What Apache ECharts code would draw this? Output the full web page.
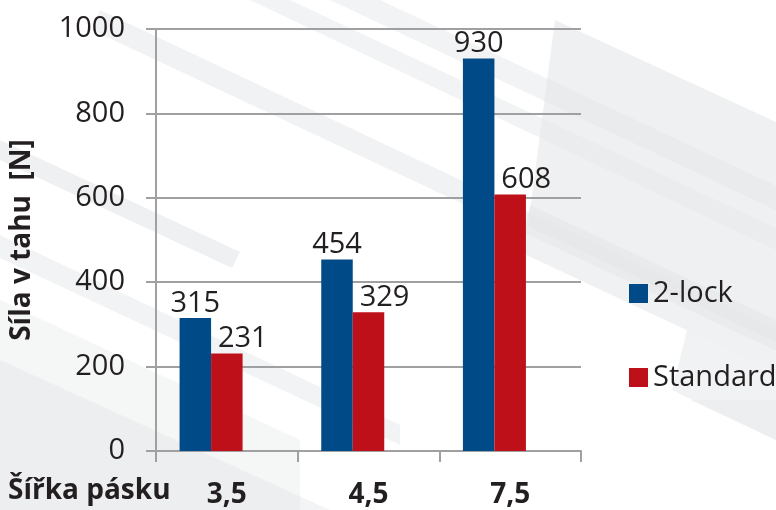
<!DOCTYPE html>
<html>
<head>
<meta charset="utf-8">
<script src="https://cdn.jsdelivr.net/npm/echarts@6/dist/echarts.min.js"></script>
<style>
html,body{margin:0;padding:0;background:#fff;}
#c{width:776px;height:510px;}
</style>
</head>
<body>
<div id="c"></div>
<script>
var categories = ['3,5', '4,5', '7,5'];
var seriesNames = ['2-lock', 'Standard'];
var lock2 = [315, 454, 930];
var standard = [231, 329, 608];
var emptySlot = [null, null, null];
var yTicks = [0, 200, 400, 600, 800, 1000];
var xTitle = 'Šířka pásku';
var yTitle = 'Síla v tahu  [N]';

var FONT = '"Open Sans", "Noto Sans", sans-serif';
var TXT = '#231f20';
var GRID = '#a0a0a2';

function poly(points, color, z) {
  return { type: 'polygon', silent: true, z: z || -10, shape: { points: points }, style: { fill: color } };
}

var bg = [
  // left stripes
  poly([[100, 10], [800, 340], [800, 362], [92, 30]], 'rgba(232,234,235,0.6)'),
  poly([[0, 140], [240, 252], [232, 268], [0, 160]], 'rgba(232,234,235,0.7)'),
  poly([[0, 235], [400, 425], [400, 445], [0, 258]], 'rgba(232,234,235,0.55)'),
  poly([[0, 300], [300, 440], [300, 510], [0, 510]], 'rgba(232,234,235,0.45)'),
  poly([[0, 360], [330, 510], [0, 510]], 'rgba(226,228,230,0.4)'),
  poly([[290, 0], [776, 228], [776, 250], [250, 0]], 'rgba(232,234,235,0.55)'),
  // right blocks
  poly([[555, 20], [776, 122], [776, 342], [528, 226]], 'rgba(230,232,233,0.65)'),
  poly([[380, 0], [776, 186], [776, 210], [330, 0]], 'rgba(226,228,230,0.45)'),
  poly([[530, 205], [776, 320], [776, 372], [520, 252]], 'rgba(228,230,232,0.55)'),
  poly([[687, 330], [776, 372], [776, 440], [672, 390]], 'rgba(232,234,235,0.6)'),
  poly([[690, 400], [776, 440], [776, 400]], 'rgba(232,234,235,0.5)'),
  {
    type: 'text', left: 8, top: 477, z: 10,
    style: { text: xTitle, font: 'bold 28px ' + FONT, fill: TXT }
  }
];

var labelBlue = { show: true, position: 'top', distance: 0, fontFamily: FONT, fontSize: 29, color: TXT };
var labelRed = { show: true, position: 'top', distance: 0, offset: [16, 0], fontFamily: FONT, fontSize: 29, color: TXT };

var option = {
  backgroundColor: '#ffffff',
  animation: false,
  graphic: bg,
  grid: { left: 155, right: 195, top: 29, bottom: 59, containLabel: false },
  legend: {
    orient: 'vertical', left: 624, top: 274,
    itemWidth: 19, itemHeight: 19, itemGap: 55,
    icon: 'rect',
    textStyle: { fontFamily: FONT, fontSize: 29, color: TXT, lineHeight: 29 },
    data: seriesNames
  },
  xAxis: {
    type: 'category', data: categories,
    axisLine: { show: true, lineStyle: { color: GRID, width: 2 } },
    axisTick: { show: true, length: 11, lineStyle: { color: GRID, width: 2 } },
    axisLabel: { fontFamily: FONT, fontSize: 28, fontWeight: 'bold', color: TXT, margin: 30 },
    splitLine: { show: false }
  },
  yAxis: {
    type: 'value', min: yTicks[0], max: yTicks[yTicks.length - 1], interval: 200,
    name: yTitle, nameLocation: 'middle', nameGap: 120,
    nameTextStyle: { fontFamily: FONT, fontSize: 28, fontWeight: 'bold', color: TXT },
    axisLine: { show: true, lineStyle: { color: GRID, width: 2 } },
    axisTick: { show: true, length: 10, lineStyle: { color: GRID, width: 2 } },
    axisLabel: { fontFamily: FONT, fontSize: 29, color: TXT, margin: 31, formatter: function (v) { return String(v); } },
    splitLine: { show: true, lineStyle: { color: GRID, width: 2 } }
  },
  series: [
    {
      name: seriesNames[0], type: 'bar', data: lock2, barWidth: 31.5, barGap: '0%',
      itemStyle: { color: '#004a87' }, label: labelBlue
    },
    {
      name: seriesNames[1], type: 'bar', data: standard, barWidth: 31.5, barGap: '0%',
      itemStyle: { color: '#be1019' }, label: labelRed
    },
    {
      name: 'empty', type: 'bar', data: emptySlot, barWidth: 31.5, barGap: '0%',
      itemStyle: { color: 'transparent' }, label: { show: false }
    }
  ]
};

var chart = echarts.init(document.getElementById('c'), null, { renderer: 'canvas' });
chart.setOption(option);
</script>
</body>
</html>
